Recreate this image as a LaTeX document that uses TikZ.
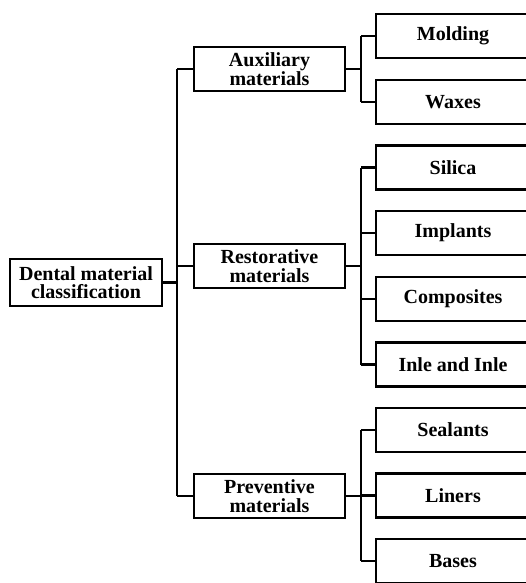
\documentclass[tikz,border=0pt]{standalone}
\usepackage{fontspec}
\setmainfont{Liberation Serif}
\usetikzlibrary{positioning}

\begin{document}
\begin{tikzpicture}[x=1pt, y=-1pt,
    box/.style={draw, line width=2.2pt, inner sep=0pt, align=center,
        font=\fontsize{20}{18.5}\selectfont\bfseries, minimum height=44pt},
    midbox/.style={box, minimum width=151pt},
    leafbox/.style={box, minimum width=154pt},
    link/.style={line width=2.2pt}]

    \useasboundingbox (0,0) rectangle (526,583);

    % root and the three groups
    \node[box, minimum width=152pt, minimum height=47pt] (dental) at (86,282.5) {Dental material\\classification};
    \node[midbox] (aux)  at (269.5,69)  {Auxiliary\\materials};
    \node[midbox] (rest) at (269.5,266) {Restorative\\materials};
    \node[midbox] (prev) at (269.5,496) {Preventive\\materials};

    % leaves
    \foreach \y/\name/\txt in {36/mold/Molding, 102/wax/Waxes,
        167.5/sil/Silica, 233/impl/Implants, 299/comp/Composites, 364.5/inle/Inle and Inle,
        430/seal/Sealants, 495.5/lin/Liners, 561/bas/Bases}
        \node[leafbox] (\name) at (453,\y) {\txt};

    % spines
    \coordinate (trunk) at (177,0);
    \coordinate (spine) at (361,0);

    \draw[link] (dental.east) -- (dental.east -| trunk);
    \draw[link] (aux.west -| trunk) -- (prev.west -| trunk);
    \foreach \g in {aux, rest, prev}
        \draw[link] (\g.west -| trunk) -- (\g.west);

    \draw[link] (aux.east) -- (aux.east -| spine);
    \draw[link] (mold.west -| spine) -- (wax.west -| spine);
    \draw[link] (rest.east) -- (rest.east -| spine);
    \draw[link] (sil.west -| spine) -- (inle.west -| spine);
    \draw[link] (prev.east) -- (prev.east -| spine);
    \draw[link] (seal.west -| spine) -- (bas.west -| spine);
    \foreach \l in {mold, wax, sil, impl, comp, inle, seal, lin, bas}
        \draw[link] (\l.west -| spine) -- (\l.west);
\end{tikzpicture}
\end{document}
